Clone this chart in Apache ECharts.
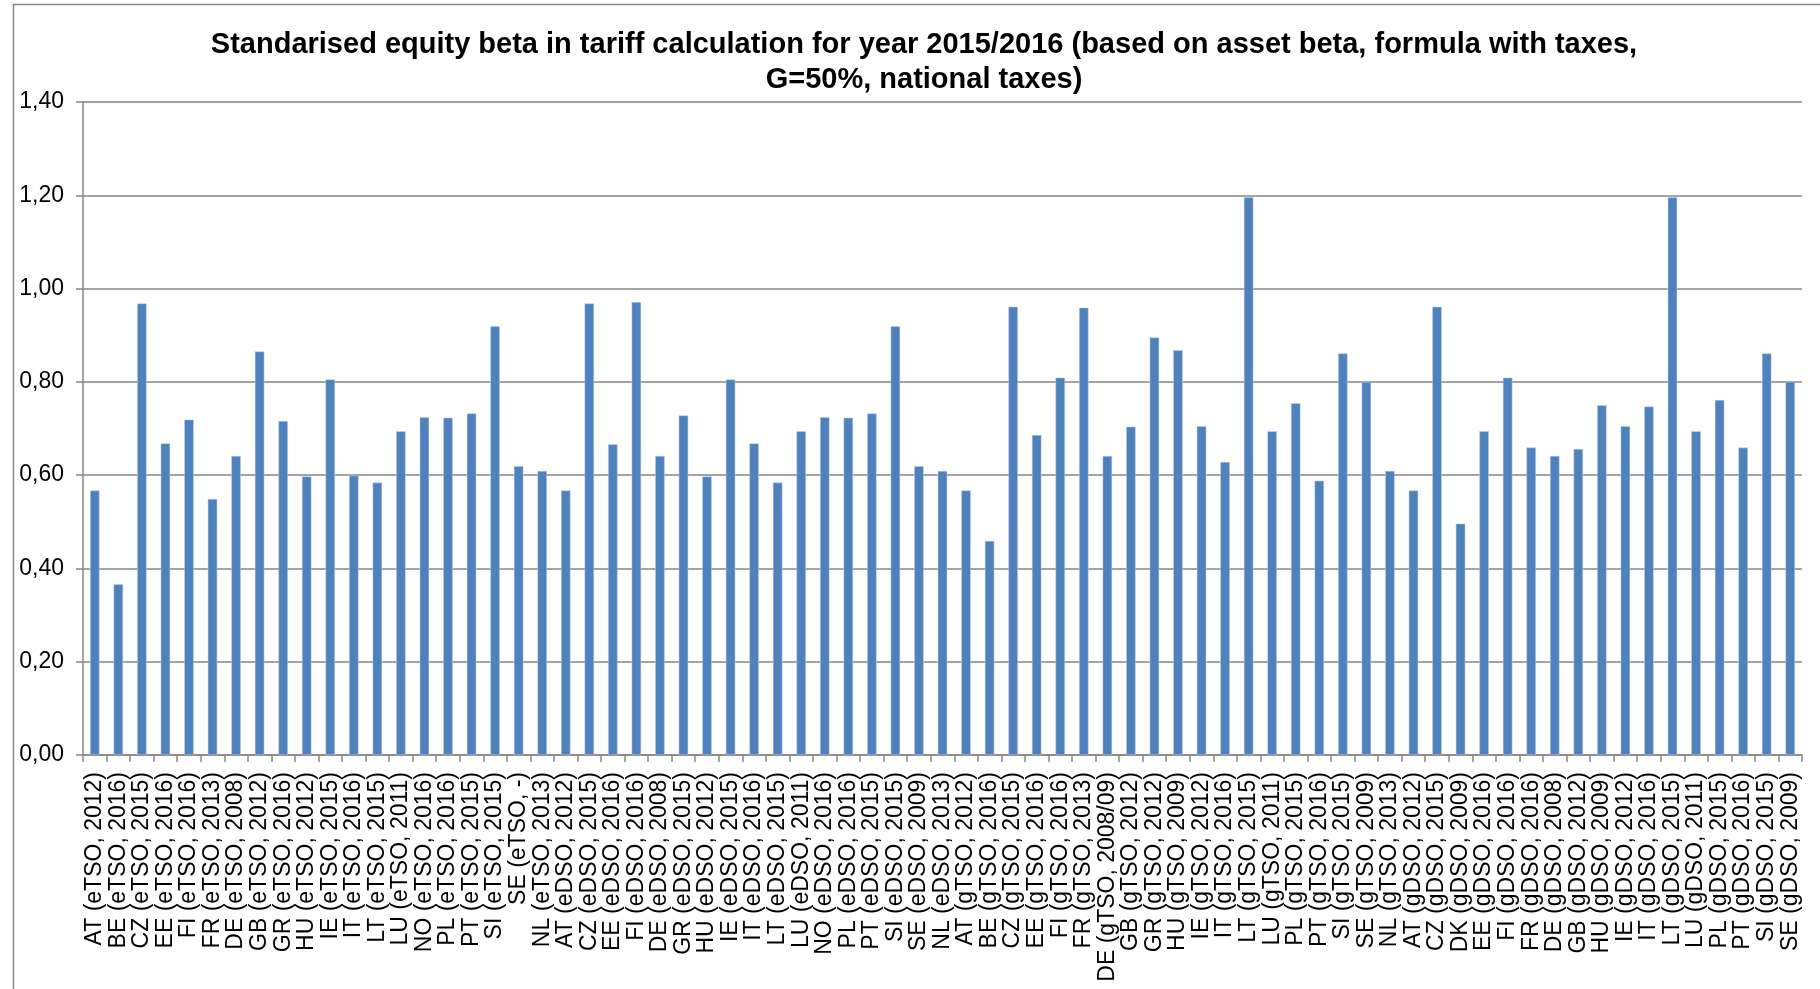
<!DOCTYPE html>
<html>
<head>
<meta charset="utf-8">
<title>Standarised equity beta</title>
<script src="https://cdn.jsdelivr.net/npm/echarts@6/dist/echarts.min.js"></script>
<style>
  html, body { margin: 0; padding: 0; background: #ffffff; }
  #chart { width: 1820px; height: 989px; }
</style>
</head>
<body>
<div id="chart"></div>
<script>
// Electricity TSOs
const etsoLabels = ['AT (eTSO, 2012)', 'BE (eTSO, 2016)', 'CZ (eTSO, 2015)', 'EE (eTSO, 2016)', 'FI (eTSO, 2016)',
  'FR (eTSO, 2013)', 'DE (eTSO, 2008)', 'GB (eTSO, 2012)', 'GR (eTSO, 2016)', 'HU (eTSO, 2012)',
  'IE (eTSO, 2015)', 'IT (eTSO, 2016)', 'LT (eTSO, 2015)', 'LU (eTSO, 2011)', 'NO (eTSO, 2016)',
  'PL (eTSO, 2016)', 'PT (eTSO, 2015)', 'SI (eTSO, 2015)', 'SE (eTSO, -)', 'NL (eTSO, 2013)'];
const etsoValues = [0.567, 0.366, 0.968, 0.668, 0.719, 0.549, 0.641, 0.865, 0.716, 0.597,
  0.805, 0.599, 0.584, 0.694, 0.724, 0.723, 0.732, 0.919, 0.619, 0.609];

// Electricity DSOs
const edsoLabels = ['AT (eDSO, 2012)', 'CZ (eDSO, 2015)', 'EE (eDSO, 2016)', 'FI (eDSO, 2016)', 'DE (eDSO, 2008)',
  'GR (eDSO, 2015)', 'HU (eDSO, 2012)', 'IE (eDSO, 2015)', 'IT (eDSO, 2016)', 'LT (eDSO, 2015)',
  'LU (eDSO, 2011)', 'NO (eDSO, 2016)', 'PL (eDSO, 2016)', 'PT (eDSO, 2015)', 'SI (eDSO, 2015)',
  'SE (eDSO, 2009)', 'NL (eDSO, 2013)'];
const edsoValues = [0.567, 0.968, 0.666, 0.971, 0.641, 0.728, 0.597, 0.805, 0.668, 0.584,
  0.694, 0.724, 0.723, 0.732, 0.919, 0.619, 0.609];

// Gas TSOs
const gtsoLabels = ['AT (gTSO, 2012)', 'BE (gTSO, 2016)', 'CZ (gTSO, 2015)', 'EE (gTSO, 2016)', 'FI (gTSO, 2016)',
  'FR (gTSO, 2013)', 'DE (gTSO, 2008/09)', 'GB (gTSO, 2012)', 'GR (gTSO, 2012)', 'HU (gTSO, 2009)',
  'IE (gTSO, 2012)', 'IT (gTSO, 2016)', 'LT (gTSO, 2015)', 'LU (gTSO, 2011)', 'PL (gTSO, 2015)',
  'PT (gTSO, 2016)', 'SI (gTSO, 2015)', 'SE (gTSO, 2009)', 'NL (gTSO, 2013)'];
const gtsoValues = [0.567, 0.459, 0.961, 0.686, 0.809, 0.959, 0.641, 0.704, 0.895, 0.868,
  0.705, 0.628, 1.196, 0.694, 0.754, 0.588, 0.861, 0.800, 0.609];

// Gas DSOs
const gdsoLabels = ['AT (gDSO, 2012)', 'CZ (gDSO, 2015)', 'DK (gDSO, 2009)', 'EE (gDSO, 2016)', 'FI (gDSO, 2016)',
  'FR (gDSO, 2016)', 'DE (gDSO, 2008)', 'GB (gDSO, 2012)', 'HU (gDSO, 2009)', 'IE (gDSO, 2012)',
  'IT (gDSO, 2016)', 'LT (gDSO, 2015)', 'LU (gDSO, 2011)', 'PL (gDSO, 2015)', 'PT (gDSO, 2016)',
  'SI (gDSO, 2015)', 'SE (gDSO, 2009)'];
const gdsoValues = [0.567, 0.961, 0.496, 0.694, 0.809, 0.659, 0.641, 0.656, 0.750, 0.705,
  0.747, 1.196, 0.694, 0.761, 0.659, 0.861, 0.800];

const yTickLabels = ['0,00', '0,20', '0,40', '0,60', '0,80', '1,00', '1,20', '1,40'];

const categories = [].concat(etsoLabels, edsoLabels, gtsoLabels, gdsoLabels);
const values = [].concat(etsoValues, edsoValues, gtsoValues, gdsoValues);

const FONT = "'Liberation Sans', Arial, sans-serif";
const GRAY = '#868686';

const chart = echarts.init(document.getElementById('chart'), null, { renderer: 'canvas' });
chart.setOption({
  animation: false,
  backgroundColor: '#ffffff',
  graphic: [{
    type: 'rect',
    left: 11, top: 2,
    shape: { width: 1830, height: 1010 },
    style: { fill: 'none', stroke: GRAY, lineWidth: 1.5 },
    silent: true
  }],
  title: {
    text: 'Standarised equity beta in tariff calculation for year 2015/2016 (based on asset beta, formula with taxes,\nG=50%, national taxes)',
    left: 919,
    top: 22,
    textAlign: 'center',
    textStyle: {
      fontFamily: FONT,
      fontWeight: 'bold',
      fontSize: 29,
      lineHeight: 35,
      color: '#000000'
    }
  },
  grid: { left: 83, right: 18, top: 102, bottom: 234, containLabel: false },
  xAxis: {
    type: 'category',
    data: categories,
    boundaryGap: true,
    axisLine: { show: true, lineStyle: { color: GRAY, width: 1.5 } },
    axisTick: { show: true, interval: 0, length: 7, lineStyle: { color: GRAY, width: 1.5 } },
    axisLabel: {
      interval: 0,
      rotate: 90,
      margin: 17,
      fontFamily: FONT,
      fontSize: 23,
      color: '#000000'
    }
  },
  yAxis: {
    type: 'value',
    min: 0,
    max: 1.4,
    interval: 0.2,
    axisLine: { show: true, lineStyle: { color: GRAY, width: 1.5 } },
    axisTick: { show: true, length: 7, lineStyle: { color: GRAY, width: 1.5 } },
    splitLine: { show: true, lineStyle: { color: GRAY, width: 1.5 } },
    axisLabel: {
      margin: 19,
      fontFamily: FONT,
      fontSize: 23,
      color: '#000000',
      formatter: function (v) { return yTickLabels[Math.round(v / 0.2)]; }
    }
  },
  series: [{
    type: 'bar',
    data: values,
    barWidth: '40%',
    itemStyle: { color: '#4f81bd', borderColor: '#bcd0ea', borderWidth: 0.5 }
  }]
});
</script>
</body>
</html>
